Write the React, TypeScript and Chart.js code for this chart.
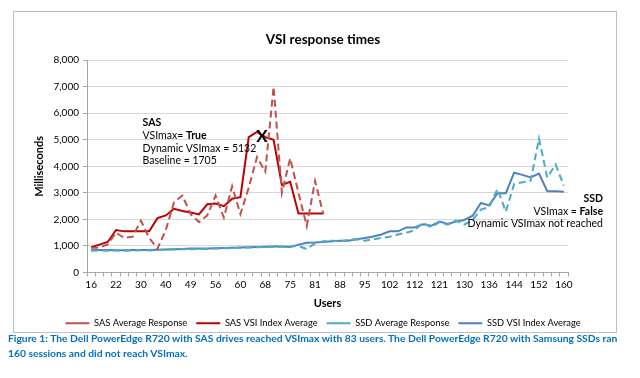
import React, { useEffect, useRef } from 'react';
import { Chart, registerables } from 'chart.js';

Chart.register(...registerables);

const FONT = 'Lato, "Liberation Sans", sans-serif';

// Category axis (users); only every third value is labeled on the axis
const users = [
  '16', '18', '20', '22', '25', '27', '30', '33', '37', '40',
  '43', '46', '49', '51', '54', '56', '57', '59', '60', '63',
  '65', '68', '70', '72', '75', '77', '79', '81', '83', '86',
  '88', '90', '93', '95', '97', '100', '102', '105', '109', '112',
  '115', '118', '121', '124', '127', '130', '132', '134', '136', '139',
  '141', '144', '147', '149', '152', '155', '157', '160',
];

const sasAverageResponse = [
  935, 935, 1060, 1500, 1300, 1350, 1950, 1300, 900, 1600,
  2650, 2900, 2200, 1900, 2150, 2900, 2070, 3250, 2200, 3200,
  4350, 3800, 7000, 3000, 4300, 3000, 1750, 3450, 2200,
];

const sasVsiIndexAverage = [
  950, 1050, 1150, 1600, 1550, 1550, 1550, 1550, 2050, 2150,
  2400, 2320, 2260, 2190, 2570, 2600, 2500, 2780, 2840, 5100,
  5300, 5100, 5000, 3300, 3420, 2220, 2220, 2220, 2220,
];

const ssdAverageResponse = [
  820, 830, 820, 830, 820, 830, 840, 830, 850, 860,
  870, 880, 880, 890, 890, 900, 910, 920, 930, 940,
  950, 960, 970, 970, 980, 1000, 880, 1100, 1180, 1200,
  1180, 1230, 1250, 1200, 1250, 1300, 1350, 1430, 1500, 1590,
  1880, 1700, 1900, 1800, 1960, 1800, 1980, 2370, 2470, 3150,
  2290, 3330, 3400, 3460, 5050, 3580, 4070, 3270,
];

const ssdVsiIndexAverage = [
  850, 850, 850, 840, 840, 850, 850, 850, 860, 870,
  880, 890, 900, 900, 900, 910, 920, 930, 940, 950,
  960, 970, 980, 980, 960, 1050, 1120, 1130, 1150, 1180,
  1200, 1200, 1250, 1300, 1360, 1430, 1550, 1550, 1700, 1700,
  1820, 1760, 1920, 1830, 1920, 1980, 2140, 2620, 2530, 2990,
  2990, 3760, 3680, 3580, 3730, 3060, 3060, 3040,
];

const yTicks = [0, 1000, 2000, 3000, 4000, 5000, 6000, 7000, 8000];

const sasDynamicVsiMax = 5132;
const sasBaseline = 1705;
const sasVsiMaxIndex = 20.6;

const captionLines = [
  'Figure 1: The Dell PowerEdge R720 with SAS drives reached VSImax with 83 users. The Dell PowerEdge R720 with Samsung SSDs ran',
  '160 sessions and did not reach VSImax.',
];

const notesPlugin = {
  id: 'notes',
  afterDraw(chart: any) {
    const { ctx, chartArea } = chart;
    const x = chart.scales.x;
    const y = chart.scales.y;
    ctx.save();
    ctx.fillStyle = '#000';
    ctx.textBaseline = 'middle';
    const normal = `10.5px ${FONT}`;
    const bold = `bold 10.5px ${FONT}`;
    const step = 12.6;

    // SAS block
    ctx.textAlign = 'left';
    const lx = x.getPixelForValue(6.2);
    let ly = y.getPixelForValue(5630);
    ctx.font = bold;
    ctx.fillText('SAS', lx, ly);
    ly += step;
    ctx.font = normal;
    ctx.fillText('VSImax= ', lx, ly);
    const w1 = ctx.measureText('VSImax= ').width;
    ctx.font = bold;
    ctx.fillText('True', lx + w1, ly);
    ly += step;
    ctx.font = normal;
    ctx.fillText('Dynamic VSImax = ' + sasDynamicVsiMax, lx, ly);
    ly += step;
    ctx.fillText('Baseline = ' + sasBaseline, lx, ly);

    // X marker
    ctx.font = `bold 17px ${FONT}`;
    ctx.textAlign = 'center';
    ctx.fillText('X', x.getPixelForValue(sasVsiMaxIndex), y.getPixelForValue(sasDynamicVsiMax));

    // SSD block
    ctx.textAlign = 'right';
    const rx = chartArea.right + 35;
    let ry = y.getPixelForValue(2780);
    ctx.font = bold;
    ctx.fillText('SSD', rx, ry);
    ry += step;
    const wFalse = ctx.measureText('False').width;
    ctx.fillText('False', rx, ry);
    ctx.font = normal;
    ctx.fillText('VSImax = ', rx - wFalse, ry);
    ry += step;
    ctx.fillText('Dynamic VSImax not reached', rx, ry);
    ctx.restore();
  },
};

export default function App() {
  const ref = useRef<HTMLCanvasElement | null>(null);

  useEffect(() => {
    if (!ref.current) return;
    const chart = new Chart(ref.current, {
      type: 'line',
      data: {
        labels: users,
        datasets: [
          {
            label: 'SAS Average Response',
            data: sasAverageResponse,
            borderColor: '#C0504D',
            backgroundColor: '#C0504D',
            borderDash: [7, 4],
            borderWidth: 2,
            pointRadius: 0,
            tension: 0,
          },
          {
            label: 'SAS VSI Index Average',
            data: sasVsiIndexAverage,
            borderColor: '#C00000',
            backgroundColor: '#C00000',
            borderWidth: 2,
            pointRadius: 0,
            tension: 0,
          },
          {
            label: 'SSD Average Response',
            data: ssdAverageResponse,
            borderColor: '#4BACC6',
            backgroundColor: '#4BACC6',
            borderDash: [7, 4],
            borderWidth: 2,
            pointRadius: 0,
            tension: 0,
          },
          {
            label: 'SSD VSI Index Average',
            data: ssdVsiIndexAverage,
            borderColor: '#4F81BD',
            backgroundColor: '#4F81BD',
            borderWidth: 2,
            pointRadius: 0,
            tension: 0,
          },
        ],
      },
      options: {
        responsive: false,
        animation: false,
        layout: { padding: { left: 16, right: 0, top: 0, bottom: 0 } },
        plugins: {
          title: {
            display: true,
            text: 'VSI response times',
            color: '#000',
            font: { family: FONT, size: 13.5, weight: 'bold' },
            padding: { top: 21, bottom: 12 },
          },
          legend: {
            position: 'bottom',
            labels: {
              usePointStyle: true,
              pointStyle: 'line',
              pointStyleWidth: 24,
              boxHeight: 9,
              color: '#000',
              font: { family: FONT, size: 9.3 },
              padding: 9,
            },
          },
          tooltip: { enabled: false },
        },
        scales: {
          x: {
            offset: true,
            grid: {
              display: true,
              drawOnChartArea: false,
              offset: true,
              tickLength: 4,
              tickColor: '#a6a6a6',
            },
            border: { color: '#a6a6a6' },
            ticks: {
              autoSkip: false,
              maxRotation: 0,
              minRotation: 0,
              padding: 2,
              color: '#000',
              font: { family: FONT, size: 10 },
              callback: (_v: any, i: number) => (i % 3 === 0 ? users[i] : ''),
            },
            title: {
              display: true,
              text: 'Users',
              color: '#000',
              font: { family: FONT, size: 11, weight: 'bold' },
              padding: { top: 4, bottom: 0 },
            },
          },
          y: {
            min: yTicks[0],
            max: yTicks[yTicks.length - 1],
            afterBuildTicks: (s: any) => {
              s.ticks = yTicks.map((v) => ({ value: v }));
            },
            afterFit: (s: any) => {
              s.width = 58;
            },
            grid: { color: '#d9d9d9', tickLength: 4, tickColor: '#a6a6a6' },
            border: { color: '#a6a6a6' },
            ticks: {
              padding: 4,
              color: '#000',
              font: { family: FONT, size: 10 },
              callback: (v: any) => Number(v).toLocaleString('en-US'),
            },
            title: {
              display: true,
              text: 'Milliseconds',
              color: '#000',
              font: { family: FONT, size: 11, weight: 'bold' },
              padding: 4,
            },
          },
          y2: {
            position: 'right',
            display: true,
            grid: { display: false, drawOnChartArea: false },
            border: { display: false },
            ticks: { display: false },
            afterFit: (s: any) => {
              s.width = 49;
            },
          },
        },
      },
      plugins: [notesPlugin],
    } as any);
    return () => chart.destroy();
  }, []);

  return (
    <div style={{ position: 'fixed', left: 0, top: 0, width: 640, height: 378, background: '#fff', overflow: 'hidden' }}>
      <div
        style={{
          position: 'absolute',
          left: 13,
          top: 11,
          width: 604,
          height: 322,
          border: '1px solid #bfbfbf',
          boxSizing: 'border-box',
        }}
      />
      <canvas
        ref={ref}
        width={604}
        height={327}
        style={{ position: 'absolute', left: 13, top: 11, width: 604, height: 327 }}
      />
      <div
        style={{
          position: 'absolute',
          left: 8,
          top: 331,
          color: '#0070C0',
          fontFamily: FONT,
          fontWeight: 'bold',
          fontSize: 10.3,
          lineHeight: '14.5px',
          whiteSpace: 'nowrap',
        }}
      >
        {captionLines.map((l, i) => (
          <div key={i}>{l}</div>
        ))}
      </div>
    </div>
  );
}
